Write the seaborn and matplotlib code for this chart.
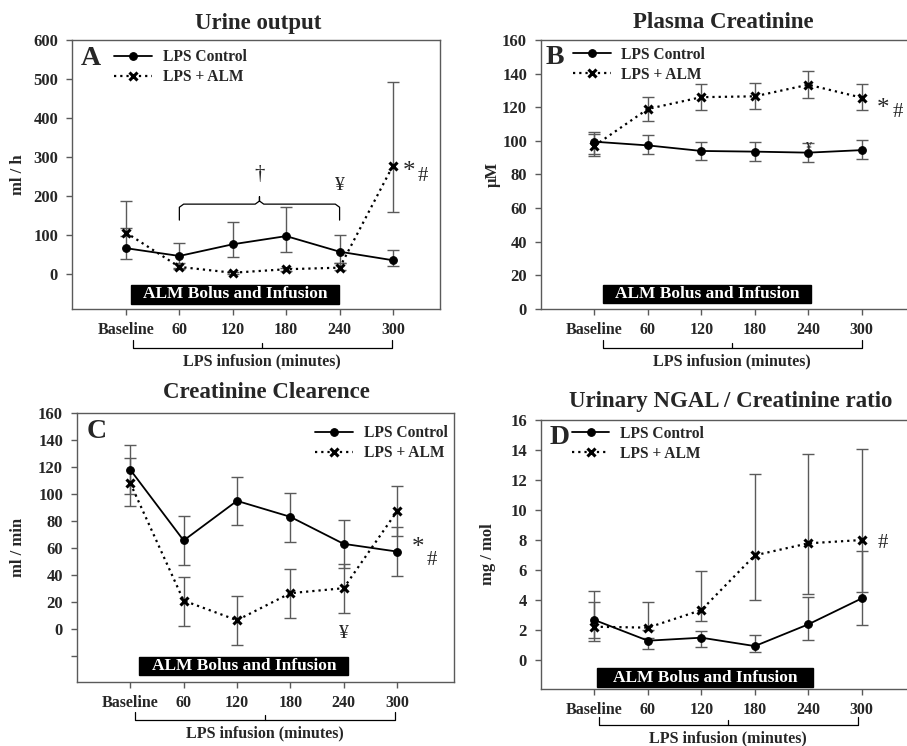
import numpy as np
import pandas as pd
import matplotlib
matplotlib.use("Agg")
import matplotlib.pyplot as plt
import matplotlib.transforms as mtrans
from matplotlib.patches import Rectangle
import seaborn as sns

sns.set_style("ticks")
plt.rcParams['font.family'] = ['Liberation Serif', 'DejaVu Serif']
plt.rcParams['font.weight'] = 'bold'

# ---------------- data ----------------
time_labels = ["Baseline", "60", "120", "180", "240", "300"]
groups = ["LPS Control", "LPS + ALM"]

# A: Urine output (ml / h)
urine_ctrl = [66, 46, 76, 97, 57, 35]
urine_ctrl_lo = [38, 15, 44, 55, 28, 21]
urine_ctrl_hi = [186, 79, 134, 172, 100, 62]
urine_alm = [106, 18, 3, 12, 16, 278]
urine_alm_lo = [96, 12, 0, 8, 10, 158]
urine_alm_hi = [117, 27, 6, 16, 28, 491]

# B: Plasma creatinine (uM)
pcr_ctrl = [99.5, 97.3, 94.0, 93.6, 93.0, 94.5]
pcr_ctrl_lo = [92.0, 92.0, 88.4, 88.0, 87.4, 89.2]
pcr_ctrl_hi = [105.4, 103.3, 99.5, 99.5, 98.5, 100.5]
pcr_alm = [97.1, 119.0, 126.0, 126.5, 133.4, 125.7]
pcr_alm_lo = [91.0, 111.8, 118.5, 119.0, 125.3, 118.3]
pcr_alm_hi = [104.0, 126.0, 133.8, 134.6, 141.5, 133.6]

# C: Creatinine clearance (ml / min)
ccl_ctrl = [118, 65.7, 95, 83.2, 63.2, 57.5]
ccl_ctrl_lo = [100.2, 47.4, 77, 64.4, 45.2, 39.5]
ccl_ctrl_hi = [136, 84, 113, 100.7, 81.2, 75.5]
ccl_alm = [108, 21.2, 6.7, 26.7, 30.4, 87.2]
ccl_alm_lo = [90.9, 2.7, -11.6, 8.6, 12.3, 69]
ccl_alm_hi = [126.7, 39, 24.7, 44.7, 48.4, 105.7]

# D: Urinary NGAL / creatinine ratio (mg / mol)
ngal_ctrl = [2.67, 1.29, 1.49, 0.93, 2.38, 4.11]
ngal_ctrl_lo = [1.24, 0.73, 0.85, 0.55, 1.33, 2.33]
ngal_ctrl_hi = [4.62, 1.5, 1.91, 1.64, 4.18, 7.29]
ngal_alm = [2.22, 2.16, 3.33, 6.98, 7.78, 8.0]
ngal_alm_lo = [1.49, 2.0, 2.6, 3.98, 4.4, 4.51]
ngal_alm_hi = [3.84, 3.84, 5.93, 12.38, 13.76, 14.09]

W, H = 907, 746
fig = plt.figure(figsize=(W / 100, H / 100), dpi=100)


def rect(l, r, t, b):
    return [l / W, 1 - b / H, (r - l) / W, (b - t) / H]


GREY = '#5a5a5a'
pos = np.arange(len(time_labels))


def panel(box, xlim, ylim, yticks, ylabels, title, title_xy, ylabel, ylab_x,
          ctrl, clo, chi, alm, alo, ahi, letter, leg_anchor, leg_loc,
          bolus, tick_y, brk_x, brk_y, lab_y, lab_x):
    ax = fig.add_axes(rect(*box))
    c = np.array(ctrl); a = np.array(alm)
    ax.errorbar(pos, c, yerr=[c - np.array(clo), np.array(chi) - c], fmt='none',
                ecolor=GREY, elinewidth=1.0, capsize=4, capthick=1.0, zorder=2)
    ax.errorbar(pos, a, yerr=[a - np.array(alo), np.array(ahi) - a], fmt='none',
                ecolor=GREY, elinewidth=1.0, capsize=4, capthick=1.0, zorder=2)
    df = pd.DataFrame({"pos": np.concatenate([pos, pos]),
                       "val": np.concatenate([c, a]),
                       "group": [groups[0]] * 6 + [groups[1]] * 6})
    sns.lineplot(data=df[df.group == groups[0]], x="pos", y="val", ax=ax,
                 color='black', marker='o', markersize=5.5, markeredgecolor='black',
                 markeredgewidth=0.8,
                 linewidth=1.3, linestyle='-', label=groups[0], zorder=3)
    sns.lineplot(data=df[df.group == groups[1]], x="pos", y="val", ax=ax,
                 color='black', marker='x', markersize=5.5, markeredgewidth=2.2,
                 markeredgecolor='black',
                 linewidth=1.6, linestyle=(0, (1, 1.8)), label=groups[1], zorder=3)
    ax.set_xlim(*xlim)
    ax.set_ylim(*ylim)
    ax.set_xticks(pos)
    ax.set_xticklabels([])
    ax.set_yticks(yticks)
    ax.set_yticklabels(ylabels, fontsize=12, fontweight='bold')
    ax.tick_params(axis='both', direction='out', length=4, width=1, color=GREY)
    ax.tick_params(axis='y', pad=6)
    for s in ax.spines.values():
        s.set_color(GREY)
        s.set_linewidth(1.0)
    ax.set_xlabel("")
    ax.set_ylabel(ylabel, fontsize=12, fontweight='bold')
    ax.yaxis.set_label_coords(ylab_x, 0.5)

    # x tick labels
    tr = mtrans.blended_transform_factory(ax.transData, fig.transFigure)
    for p, t in zip(pos, time_labels):
        ax.text(p, 1 - tick_y / H, t, transform=tr, ha='center', va='center',
                fontsize=11.5, fontweight='bold')
    # bracket below axis
    x0, x1 = brk_x
    xm = lab_x
    yb_top = 1 - (brk_y - 8) / H
    yb = 1 - brk_y / H
    ax.plot([x0, x0, x1, x1], [yb_top, yb, yb, yb_top], transform=tr, color='black',
            lw=0.9, clip_on=False)
    ax.plot([xm, xm], [yb, yb + 5 / H], transform=tr, color='black', lw=0.9, clip_on=False)
    ax.text(xm, 1 - lab_y / H, "LPS infusion (minutes)", transform=tr, ha='center',
            va='center', fontsize=11.5, fontweight='bold')

    # bolus box
    bx0, bx1, by0, by1 = bolus
    ax.add_patch(Rectangle((bx0, by0), bx1 - bx0, by1 - by0, facecolor='black',
                           edgecolor='black', zorder=4))
    ax.text((bx0 + bx1) / 2, (by0 + by1) / 2, "ALM Bolus and Infusion", color='white',
            ha='center', va='center', fontsize=12.5, fontweight='bold', zorder=5)

    # title
    fig.text(title_xy[0] / W, 1 - title_xy[1] / H, title, ha='center', va='center',
             fontsize=16.5, fontweight='bold')

    # legend
    leg = ax.legend(loc=leg_loc, bbox_to_anchor=leg_anchor, frameon=False, fontsize=11.2,
                    handlelength=2.4, handletextpad=0.7, labelspacing=0.25,
                    borderpad=0, borderaxespad=0, numpoints=1)
    for t in leg.get_texts():
        t.set_fontweight('bold')
    # panel letter
    ax.text(letter[1], letter[2], letter[0], transform=ax.transAxes, fontsize=20,
            fontweight='bold', ha='left', va='center')
    return ax


# Panel A
axA = panel((72, 440, 40, 309), (-1.01, 5.88), (-90, 600), np.arange(0, 601, 100),
            [str(v) for v in range(0, 601, 100)], "Urine output", (258, 23), "ml / h", -0.125,
            urine_ctrl, urine_ctrl_lo, urine_ctrl_hi, urine_alm, urine_alm_lo, urine_alm_hi,
            ("A", 0.025, 0.93), (0.115, 0.966), 'upper left',
            (0.09, 3.99, -77, -28), 330, (0.13, 4.98), 348, 361, 2.55)
# brace and annotations in A
bx = [1, 1, 1.08, 2.42, 2.5, 2.5, 2.5, 2.58, 3.92, 4, 4]
by = [138, 171, 179, 179, 187, 198, 187, 179, 179, 171, 138]
axA.plot(bx, by, color='black', lw=0.9, zorder=3)
axA.text(2.5, 254, "†", ha='center', va='center', fontsize=15, fontweight='normal')
axA.text(4, 228, "¥", ha='center', va='center', fontsize=14, fontweight='normal')
axA.text(5.3, 262, "*", ha='center', va='center', fontsize=18, fontweight='normal')
axA.text(5.56, 250, "#", ha='center', va='center', fontsize=15, fontweight='normal')

# Panel B
axB = panel((541, 912, 40, 309), (-1.0, 5.94), (0, 160), np.arange(0, 161, 20),
            [str(v) for v in range(0, 161, 20)], "Plasma Creatinine", (723, 23), "μM", -0.108,
            pcr_ctrl, pcr_ctrl_lo, pcr_ctrl_hi, pcr_alm, pcr_alm_lo, pcr_alm_hi,
            ("B", 0.012, 0.935), (0.087, 0.975), 'upper left',
            (0.16, 4.05, 3.8, 14.3), 330, (0.16, 5.0), 348, 361, 2.57)
axB.text(4, 96.5, "¥", ha='center', va='center', fontsize=9, fontweight='normal')
axB.text(5.4, 119, "*", ha='center', va='center', fontsize=18, fontweight='normal')
axB.text(5.67, 117, "#", ha='center', va='center', fontsize=15, fontweight='normal')

# Panel C
axC = panel((77, 454, 413, 682), (-1.0, 6.07), (-39, 160), np.arange(-20, 161, 20),
            [""] + [str(v) for v in range(0, 161, 20)], "Creatinine Clearence", (266, 393),
            "ml / min", -0.134,
            ccl_ctrl, ccl_ctrl_lo, ccl_ctrl_hi, ccl_alm, ccl_alm_lo, ccl_alm_hi,
            ("C", 0.025, 0.93), (0.983, 0.955), 'upper right',
            (0.17, 4.09, -33.8, -20.2), 703, (0.09, 4.96), 720, 733, 2.53)
axC.text(4, -3, "¥", ha='center', va='center', fontsize=14, fontweight='normal')
axC.text(5.4, 60, "*", ha='center', va='center', fontsize=18, fontweight='normal')
axC.text(5.65, 51, "#", ha='center', va='center', fontsize=15, fontweight='normal')

# Panel D
axD = panel((541, 912, 420, 689), (-1.0, 5.94), (-1.93, 16), np.arange(0, 17, 2),
            [str(v) for v in range(0, 17, 2)], "Urinary NGAL / Creatinine ratio", (731, 402),
            "mg / mol", -0.121,
            ngal_ctrl, ngal_ctrl_lo, ngal_ctrl_hi, ngal_alm, ngal_alm_lo, ngal_alm_hi,
            ("D", 0.022, 0.935), (0.084, 0.978), 'upper left',
            (0.04, 4.09, -1.78, -0.56), 710, (0.09, 4.93), 725, 738, 2.49)
axD.text(5.39, 7.8, "#", ha='center', va='center', fontsize=15, fontweight='normal')

fig.savefig("out.png", dpi=100)
